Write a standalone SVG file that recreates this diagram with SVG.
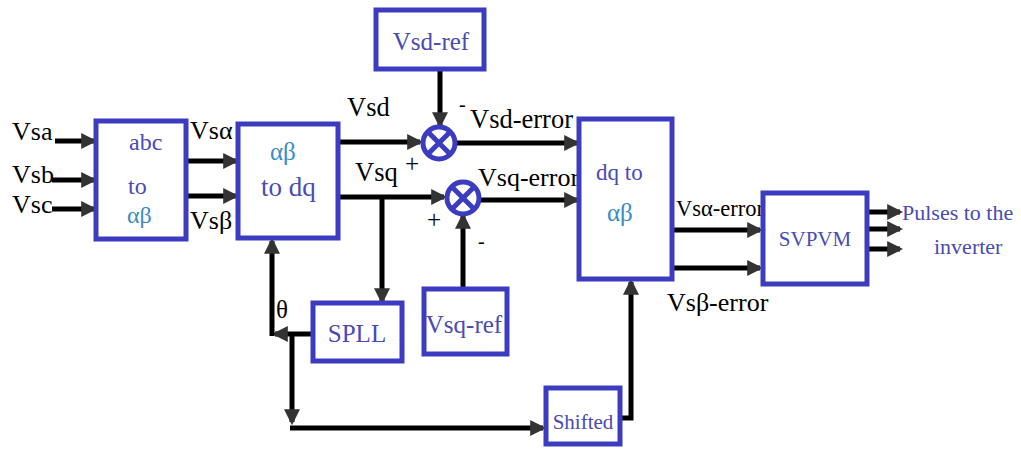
<svg xmlns="http://www.w3.org/2000/svg" width="1021" height="460" viewBox="0 0 1021 460" font-family="'Liberation Serif','Times New Roman','DejaVu Serif',serif">
<style>
.box{fill:#fff;stroke:#3c3cc0;stroke-width:5}
.w{stroke:#000;stroke-width:5;fill:none}
.t{fill:#000}
.b{fill:#4a4ab4}
.c{fill:#3a8cc4}
.sum{fill:#fff;stroke:#3c3cc0;stroke-width:5}
</style>
<defs>
<marker id="ah" viewBox="0 0 10 10" refX="8" refY="5" markerWidth="3.2" markerHeight="3.2" orient="auto" markerUnits="strokeWidth">
<path d="M0,0 L10,5 L0,10 z" fill="#333"/>
</marker>
</defs>
<rect width="1021" height="460" fill="#fff"/>
<g id="connectors">
<line class="w" x1="55" y1="141" x2="94" y2="141" marker-end="url(#ah)"/>
<line class="w" x1="52" y1="180" x2="94" y2="180" marker-end="url(#ah)"/>
<line class="w" x1="52" y1="209" x2="94" y2="209" marker-end="url(#ah)"/>
<line class="w" x1="188" y1="161" x2="236" y2="161" marker-end="url(#ah)"/>
<line class="w" x1="188" y1="196" x2="236" y2="196" marker-end="url(#ah)"/>
<line class="w" x1="340" y1="142" x2="420" y2="142" marker-end="url(#ah)"/>
<line class="w" x1="340" y1="197" x2="444" y2="197" marker-end="url(#ah)"/>
<line class="w" x1="440" y1="71" x2="440" y2="125" marker-end="url(#ah)"/>
<line class="w" x1="382" y1="197" x2="382" y2="301" marker-end="url(#ah)"/>
<line class="w" x1="463" y1="288" x2="463" y2="216" marker-end="url(#ah)"/>
<line class="w" x1="456" y1="143" x2="577" y2="143" marker-end="url(#ah)"/>
<line class="w" x1="480" y1="200" x2="577" y2="200" marker-end="url(#ah)"/>
<line class="w" x1="674" y1="230" x2="760" y2="230" marker-end="url(#ah)"/>
<line class="w" x1="674" y1="268" x2="760" y2="268" marker-end="url(#ah)"/>
<line class="w" x1="869" y1="212" x2="900" y2="212" marker-end="url(#ah)"/>
<line class="w" x1="869" y1="229" x2="900" y2="229" marker-end="url(#ah)"/>
<line class="w" x1="869" y1="249" x2="900" y2="249" marker-end="url(#ah)"/>
<line class="w" x1="311" y1="334" x2="275" y2="334" marker-end="url(#ah)"/>
<line class="w" x1="272" y1="336" x2="272" y2="241" marker-end="url(#ah)"/>
<line class="w" x1="292" y1="334" x2="292" y2="422" marker-end="url(#ah)"/>
<line class="w" x1="290" y1="428" x2="543" y2="428" marker-end="url(#ah)"/>
<polyline class="w" points="622,418 631,418 631,282" marker-end="url(#ah)"/>
</g>
<g id="inputs" font-size="26">
<text class="t" x="12" y="140">Vsa</text>
<text class="t" x="12" y="183">Vsb</text>
<text class="t" x="12" y="213">Vsc</text>
<text class="t" x="190" y="139">Vsα</text>
<text class="t" x="190" y="229">Vsβ</text>
</g>
<g id="abc-to-ab" font-size="24">
<rect class="box" x="96" y="121" width="90" height="118"/>
<text class="b" x="129" y="150">abc</text>
<text class="b" x="128" y="194">to</text>
<text class="c" x="127" y="223">αβ</text>
</g>
<g id="ab-to-dq">
<rect class="box" x="238" y="124" width="100" height="114"/>
<text class="c" x="270" y="160" font-size="25">αβ</text>
<text class="b" x="261" y="196" font-size="27">to dq</text>
</g>
<g id="vsd-ref">
<rect class="box" x="376" y="10" width="108" height="59"/>
<text class="b" x="431" y="50" text-anchor="middle" font-size="25">Vsd-ref</text>
</g>
<g id="sum-d">
<circle class="sum" cx="439" cy="143" r="16"/>
<path d="M428,132 L450,154 M450,132 L428,154" stroke="#3c3cc0" stroke-width="5"/>
</g>
<g id="sum-q">
<circle class="sum" cx="463" cy="198" r="16"/>
<path d="M452,187 L474,209 M474,187 L452,209" stroke="#3c3cc0" stroke-width="5"/>
</g>
<g id="labels" font-size="26.5">
<text class="t" x="347" y="116">Vsd</text>
<text class="t" x="355" y="181">Vsq</text>
<text class="t" x="459" y="111" font-size="20">-</text>
<text class="t" x="470" y="128">Vsd-error</text>
<text class="t" x="405" y="172" font-size="25">+</text>
<text class="t" x="478" y="186" font-size="26">Vsq-error</text>
<text class="t" x="427" y="228" font-size="25">+</text>
<text class="t" x="478" y="248" font-size="20">-</text>
<text class="t" x="676" y="216" font-size="22.5">Vsα-error</text>
<text class="t" x="667" y="311" font-size="26">Vsβ-error</text>
<text class="t" x="276" y="318" font-size="25">θ</text>
</g>
<g id="dq-to-ab">
<rect class="box" x="579" y="119" width="93" height="160"/>
<text class="b" x="596" y="180" font-size="23">dq to</text>
<text class="c" x="607" y="221" font-size="25">αβ</text>
</g>
<g id="svpvm">
<rect class="box" x="763" y="193" width="104" height="91"/>
<text class="b" x="815" y="246" text-anchor="middle" font-size="21">SVPVM</text>
</g>
<g id="output" font-size="22">
<text class="b" x="902" y="220">Pulses to the</text>
<text class="b" x="934" y="254">inverter</text>
</g>
<g id="spll">
<rect class="box" x="313" y="303" width="89" height="58"/>
<text class="b" x="357" y="342" text-anchor="middle" font-size="25">SPLL</text>
</g>
<g id="vsq-ref">
<rect class="box" x="424" y="289" width="83" height="65"/>
<text class="b" x="464" y="333" text-anchor="middle" font-size="25">Vsq-ref</text>
</g>
<g id="shifted">
<rect class="box" x="546" y="388" width="74" height="56"/>
<text class="b" x="583" y="429" text-anchor="middle" font-size="21">Shifted</text>
</g>
</svg>
